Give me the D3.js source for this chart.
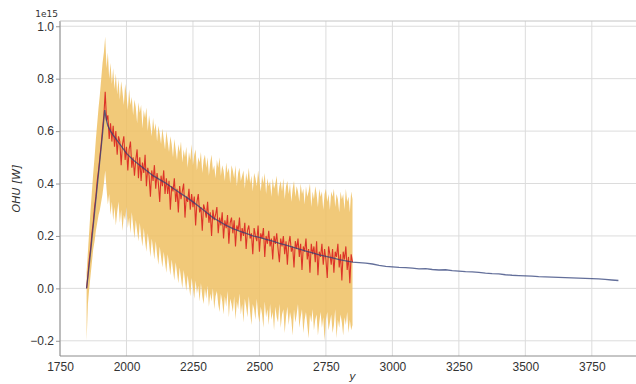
<!DOCTYPE html>
<html>
<head>
<meta charset="utf-8">
<script src="https://cdn.jsdelivr.net/npm/d3@7"></script>
<style>
  body { margin: 0; background: #fff; }
  svg { display: block; font-family: "DejaVu Sans", sans-serif; }
</style>
</head>
<body>
<div id="chart"></div>
<script>
// ensemble output, 5-year steps from 1850 to 2850 (units of 1e15 W)
var histStart = 1850;
var histStep = 5;

var ensMean = [
  0.00, 0.05, 0.11, 0.15, 0.21, 0.25, 0.31, 0.35, 0.41, 0.45,
  0.50, 0.55, 0.61, 0.66, 0.75, 0.64, 0.66, 0.57, 0.63, 0.56,
  0.62, 0.54, 0.60, 0.51, 0.58, 0.56, 0.47, 0.55, 0.58, 0.49,
  0.54, 0.45, 0.53, 0.56, 0.46, 0.50, 0.43, 0.49, 0.53, 0.42,
  0.50, 0.41, 0.48, 0.44, 0.51, 0.39, 0.46, 0.43, 0.35, 0.45,
  0.41, 0.47, 0.38, 0.44, 0.40, 0.33, 0.43, 0.39, 0.45, 0.36,
  0.42, 0.36, 0.41, 0.30, 0.39, 0.37, 0.42, 0.33, 0.38, 0.29,
  0.39, 0.34, 0.37, 0.40, 0.27, 0.35, 0.33, 0.38, 0.30, 0.36,
  0.31, 0.35, 0.24, 0.33, 0.36, 0.29, 0.31, 0.22, 0.32, 0.30,
  0.27, 0.33, 0.25, 0.29, 0.20, 0.30, 0.26, 0.28, 0.31, 0.21,
  0.27, 0.24, 0.29, 0.19, 0.26, 0.23, 0.28, 0.17, 0.25, 0.27,
  0.21, 0.26, 0.16, 0.24, 0.22, 0.27, 0.18, 0.23, 0.20, 0.25,
  0.15, 0.22, 0.24, 0.19, 0.21, 0.13, 0.23, 0.20, 0.18, 0.24,
  0.14, 0.21, 0.19, 0.23, 0.12, 0.20, 0.17, 0.22, 0.16, 0.19,
  0.11, 0.20, 0.17, 0.21, 0.15, 0.10, 0.19, 0.16, 0.20, 0.13,
  0.18, 0.09, 0.17, 0.20, 0.14, 0.16, 0.08, 0.18, 0.15, 0.19,
  0.12, 0.17, 0.07, 0.16, 0.14, 0.19, 0.11, 0.15, 0.06, 0.17,
  0.13, 0.16, 0.10, 0.18, 0.05, 0.14, 0.12, 0.17, 0.09, 0.15,
  0.11, 0.04, 0.16, 0.13, 0.09, 0.15, 0.06, 0.14, 0.12, 0.17,
  0.08, 0.13, 0.03, 0.14, 0.11, 0.16, 0.07, 0.12, 0.02, 0.13,
  0.10
];

var ensUpper = [
  0.06, 0.14, 0.22, 0.30, 0.37, 0.44, 0.50, 0.57, 0.63, 0.69,
  0.74, 0.80, 0.86, 0.90, 0.96, 0.84, 0.90, 0.80, 0.86, 0.78,
  0.84, 0.76, 0.82, 0.74, 0.80, 0.72, 0.79, 0.75, 0.70, 0.78,
  0.74, 0.68, 0.76, 0.70, 0.73, 0.66, 0.72, 0.69, 0.63, 0.71,
  0.67, 0.70, 0.61, 0.68, 0.65, 0.69, 0.60, 0.66, 0.62, 0.58,
  0.65, 0.60, 0.63, 0.56, 0.62, 0.59, 0.55, 0.61, 0.57, 0.53,
  0.60, 0.56, 0.52, 0.58, 0.55, 0.50, 0.57, 0.53, 0.49, 0.55,
  0.52, 0.56, 0.48, 0.53, 0.50, 0.54, 0.46, 0.52, 0.49, 0.55,
  0.47, 0.51, 0.53, 0.45, 0.50, 0.48, 0.52, 0.44, 0.49, 0.51,
  0.46, 0.50, 0.43, 0.48, 0.51, 0.45, 0.47, 0.42, 0.49, 0.46,
  0.50, 0.43, 0.47, 0.45, 0.41, 0.48, 0.44, 0.46, 0.40, 0.47,
  0.45, 0.42, 0.47, 0.39, 0.44, 0.46, 0.41, 0.43, 0.45, 0.38,
  0.44, 0.41, 0.46, 0.40, 0.43, 0.37, 0.44, 0.42, 0.39, 0.45,
  0.41, 0.37, 0.43, 0.40, 0.44, 0.36, 0.42, 0.39, 0.41, 0.35,
  0.42, 0.38, 0.40, 0.43, 0.35, 0.39, 0.41, 0.37, 0.42, 0.34,
  0.39, 0.41, 0.36, 0.40, 0.33, 0.38, 0.41, 0.35, 0.39, 0.37,
  0.33, 0.40, 0.36, 0.38, 0.32, 0.39, 0.35, 0.37, 0.40, 0.31,
  0.37, 0.34, 0.39, 0.36, 0.31, 0.38, 0.35, 0.37, 0.30, 0.36,
  0.38, 0.33, 0.36, 0.30, 0.37, 0.35, 0.38, 0.31, 0.36, 0.34,
  0.29, 0.37, 0.34, 0.36, 0.30, 0.38, 0.33, 0.35, 0.29, 0.37,
  0.34
];

var ensLower = [
  -0.20, -0.06, 0.00, 0.05, 0.10, 0.15, 0.18, 0.22, 0.25, 0.28,
  0.30, 0.33, 0.36, 0.40, 0.45, 0.38, 0.32, 0.36, 0.28, 0.33,
  0.26, 0.31, 0.24, 0.29, 0.33, 0.25, 0.30, 0.22, 0.28, 0.26,
  0.31, 0.23, 0.27, 0.21, 0.29, 0.24, 0.19, 0.26, 0.22, 0.18,
  0.25, 0.20, 0.16, 0.23, 0.18, 0.14, 0.21, 0.17, 0.12, 0.19,
  0.15, 0.11, 0.18, 0.13, 0.09, 0.16, 0.12, 0.08, 0.14, 0.10,
  0.06, 0.13, 0.09, 0.05, 0.11, 0.07, 0.03, 0.10, 0.06, 0.02,
  0.08, 0.04, 0.00, 0.07, 0.03, -0.01, 0.05, 0.01, -0.03, 0.04,
  0.00, -0.04, 0.03, -0.02, 0.01, -0.05, 0.02, -0.03, -0.06, 0.00,
  -0.04, 0.01, -0.07, -0.02, -0.05, 0.00, -0.08, -0.03, -0.01, -0.06,
  -0.09, -0.02, -0.05, -0.10, -0.03, -0.07, -0.01, -0.11, -0.04, -0.06,
  -0.09, -0.03, -0.12, -0.05, -0.08, -0.02, -0.10, -0.06, -0.13, -0.04,
  -0.07, -0.11, -0.03, -0.09, -0.14, -0.06, -0.08, -0.12, -0.04, -0.10,
  -0.13, -0.07, -0.10, -0.15, -0.05, -0.11, -0.08, -0.14, -0.06, -0.12,
  -0.09, -0.16, -0.07, -0.11, -0.13, -0.06, -0.15, -0.10, -0.08, -0.17,
  -0.11, -0.07, -0.14, -0.09, -0.12, -0.18, -0.08, -0.13, -0.10, -0.06,
  -0.15, -0.11, -0.08, -0.17, -0.12, -0.09, -0.14, -0.19, -0.10, -0.13,
  -0.08, -0.16, -0.12, -0.10, -0.18, -0.13, -0.09, -0.15, -0.11, -0.20,
  -0.12, -0.09, -0.16, -0.13, -0.10, -0.17, -0.14, -0.08, -0.19, -0.12,
  -0.15, -0.10, -0.13, -0.18, -0.11, -0.14, -0.09, -0.17, -0.12, -0.16,
  -0.14
];

// emulator curve, 1850 to 3850
var emuYears = [
  1850, 1860, 1870, 1880, 1890, 1900, 1910, 1918, 1925, 1930, 1940, 1950, 1975,
  2000, 2025, 2050, 2075, 2100, 2125, 2150, 2175, 2200, 2225, 2250, 2275, 2300,
  2325, 2350, 2375, 2400, 2425, 2450, 2475, 2500, 2525, 2550, 2575, 2600, 2625,
  2650, 2675, 2700, 2725, 2750, 2775, 2800, 2825, 2850,
  2875, 2900, 2925, 2950, 2975, 3000, 3025, 3050, 3075, 3100, 3125, 3150, 3175,
  3200, 3225, 3250, 3275, 3300, 3325, 3350, 3375, 3400, 3425, 3450, 3475, 3500,
  3525, 3550, 3575, 3600, 3625, 3650, 3675, 3700, 3725, 3750, 3775, 3800, 3825,
  3850
];
var emuValues = [
  0.00, 0.09, 0.19, 0.29, 0.39, 0.49, 0.59, 0.68, 0.64, 0.62, 0.60, 0.585, 0.55,
  0.515, 0.49, 0.47, 0.45, 0.43, 0.415, 0.40, 0.382, 0.365, 0.348, 0.33, 0.31, 0.29,
  0.27, 0.255, 0.24, 0.228, 0.218, 0.21, 0.20, 0.195, 0.187, 0.18, 0.172, 0.165, 0.157,
  0.15, 0.142, 0.135, 0.128, 0.122, 0.116, 0.11, 0.105, 0.10,
  0.098, 0.096, 0.093, 0.088, 0.084, 0.082, 0.080, 0.079, 0.077, 0.074, 0.075, 0.072, 0.070,
  0.071, 0.068, 0.066, 0.064, 0.063, 0.061, 0.058, 0.056, 0.055, 0.052, 0.050, 0.049, 0.048,
  0.047, 0.045, 0.044, 0.043, 0.042, 0.041, 0.040, 0.039, 0.038, 0.037, 0.036, 0.034, 0.032,
  0.030
];

var xTicks = [1750, 2000, 2250, 2500, 2750, 3000, 3250, 3500, 3750];
var yTicks = [-0.2, 0.0, 0.2, 0.4, 0.6, 0.8, 1.0];

var width = 636;
var height = 384;
var plotLeft = 60, plotRight = 645, plotTop = 21, plotBottom = 356;

var svg = d3.select("#chart").append("svg")
  .attr("width", width)
  .attr("height", height);

var x = d3.scaleLinear().domain([1750, 3950]).range([plotLeft, plotRight]);
var y = d3.scaleLinear().domain([-0.258, 1.02]).range([plotBottom, plotTop]);

var hist = ensMean.map(function (v, i) {
  return { year: histStart + i * histStep, mean: v, lo: ensLower[i], hi: ensUpper[i] };
});
var emu = emuYears.map(function (yr, i) {
  return { year: yr, value: emuValues[i] };
});

//------- GRID -------
var grid = svg.append("g").attr("class", "grid");
grid.selectAll("line.gx")
  .data(xTicks)
  .enter().append("line")
  .attr("class", "gx")
  .attr("x1", function (d) { return x(d); })
  .attr("x2", function (d) { return x(d); })
  .attr("y1", plotTop).attr("y2", plotBottom)
  .attr("stroke", "#dcdcdc").attr("stroke-width", 1);
grid.selectAll("line.gy")
  .data(yTicks)
  .enter().append("line")
  .attr("class", "gy")
  .attr("x1", plotLeft).attr("x2", width)
  .attr("y1", function (d) { return y(d); })
  .attr("y2", function (d) { return y(d); })
  .attr("stroke", "#dcdcdc").attr("stroke-width", 1);

//------- ENSEMBLE SPREAD -------
var band = d3.area()
  .x(function (d) { return x(d.year); })
  .y0(function (d) { return y(d.lo); })
  .y1(function (d) { return y(d.hi); });

svg.append("path")
  .datum(hist)
  .attr("d", band)
  .attr("fill", "#efc062")
  .attr("fill-opacity", 0.85);

//------- ENSEMBLE MEAN -------
var meanLine = d3.line()
  .x(function (d) { return x(d.year); })
  .y(function (d) { return y(d.mean); });

svg.append("path")
  .datum(hist)
  .attr("d", meanLine)
  .attr("fill", "none")
  .attr("stroke", "#dd3328")
  .attr("stroke-width", 1.1);

//------- EMULATOR -------
var emuLine = d3.line()
  .x(function (d) { return x(d.year); })
  .y(function (d) { return y(d.value); });

svg.append("path")
  .datum(emu)
  .attr("d", emuLine)
  .attr("fill", "none")
  .attr("stroke", "#2f3f78")
  .attr("stroke-opacity", 0.75)
  .attr("stroke-width", 1.3);

//------- AXES -------
var xAxis = svg.append("g")
  .attr("transform", "translate(0," + plotBottom + ")")
  .call(d3.axisBottom(x).tickValues(xTicks).tickSize(0).tickPadding(6).tickFormat(d3.format("d")));
var yAxis = svg.append("g")
  .attr("transform", "translate(" + plotLeft + ",0)")
  .call(d3.axisLeft(y).tickValues(yTicks).tickSize(4).tickPadding(2).tickFormat(d3.format(".1f")));

[xAxis, yAxis].forEach(function (ax) {
  ax.select(".domain").remove();
  ax.selectAll("text").attr("fill", "#333").style("font-size", "12px");
  ax.selectAll(".tick line").attr("stroke", "#999");
});

// spines
svg.append("line").attr("x1", plotLeft).attr("x2", plotLeft).attr("y1", plotTop).attr("y2", plotBottom)
  .attr("stroke", "#8c8c8c").attr("stroke-width", 1);
svg.append("line").attr("x1", plotLeft).attr("x2", width).attr("y1", plotBottom).attr("y2", plotBottom)
  .attr("stroke", "#8c8c8c").attr("stroke-width", 1);
svg.append("line").attr("x1", plotLeft).attr("x2", width).attr("y1", plotTop).attr("y2", plotTop)
  .attr("stroke", "#c4c4c4").attr("stroke-width", 1);

//------- LABELS -------
svg.append("text")
  .attr("x", plotLeft - 2).attr("y", 17)
  .attr("text-anchor", "end")
  .attr("fill", "#333")
  .style("font-size", "9px")
  .text("1e15");

svg.append("text")
  .attr("transform", "translate(20," + (plotTop + plotBottom) / 2 + ") rotate(-90)")
  .attr("text-anchor", "middle")
  .attr("fill", "#333")
  .style("font-size", "11px")
  .style("font-style", "italic")
  .text("OHU [W]");

svg.append("text")
  .attr("x", (plotLeft + plotRight) / 2).attr("y", 380)
  .attr("text-anchor", "middle")
  .attr("fill", "#333")
  .style("font-size", "11px")
  .style("font-style", "italic")
  .text("y");
</script>
</body>
</html>
